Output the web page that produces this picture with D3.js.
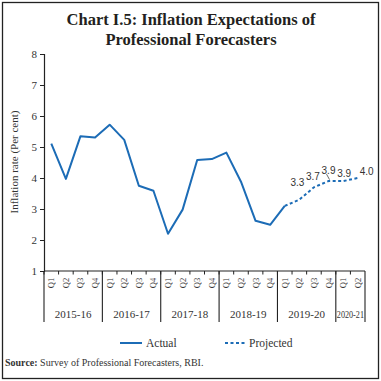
<!DOCTYPE html>
<html><head><meta charset="utf-8">
<script src="https://cdn.jsdelivr.net/npm/d3@7"></script>
<style>body{margin:0;background:#fff}svg{display:block}</style>
</head><body>
<svg id="c" width="381" height="381"></svg>
<script>
const years = ["2015-16","2016-17","2017-18","2018-19","2019-20","2020-21"];
const quarterNames = ["Q1","Q2","Q3","Q4"];
const quarterCount = [4,4,4,4,4,2];
const actual = [5.11,3.97,5.35,5.31,5.72,5.23,3.75,3.59,2.2,2.98,4.58,4.61,4.82,3.88,2.62,2.49,3.1];
const projected = [3.1,3.3,3.7,3.9,3.9,4.0];
const projectedLabels = ["","3.3","3.7","3.9","3.9","4.0"];
const yTicks = [1,2,3,4,5,6,7,8];

const keys = [];
years.forEach((y,i)=>{for(let q=0;q<quarterCount[i];q++) keys.push(y+"|"+quarterNames[q]);});

const svg = d3.select("#c");
const font = "'Liberation Serif', serif";
const blue = "#1c6cb6";
const L = 44, R = 365, T = 54, B = 271;

svg.append("rect").attr("x",2.5).attr("y",2.5).attr("width",376).attr("height",376)
  .attr("fill","none").attr("stroke","#222").attr("stroke-width",1.3);

const title = svg.append("text").attr("text-anchor","middle").attr("font-family",font)
  .attr("font-weight","bold").attr("font-size",16.5).attr("fill","#231f20");
title.append("tspan").attr("x",191).attr("y",25).text("Chart I.5: Inflation Expectations of");
title.append("tspan").attr("x",191).attr("y",45).text("Professional Forecasters");

const x = d3.scaleBand().domain(keys).range([L,R]);
const y = d3.scaleLinear().domain([1,8]).range([B,T]);

// y axis
const ya = svg.append("g").attr("transform",`translate(${L},0)`)
  .call(d3.axisLeft(y).tickValues(yTicks).tickSize(4).tickPadding(3).tickFormat(d3.format("d")));
ya.select(".domain").attr("stroke","#222").attr("stroke-width",1.2);
ya.selectAll(".tick line").attr("stroke","#222");
ya.selectAll("text").attr("font-family",font).attr("font-size",11).attr("fill","#333");

svg.append("text").attr("transform","translate(18,162) rotate(-90)").attr("text-anchor","middle")
  .attr("font-family",font).attr("font-size",11).attr("fill","#333").text("Inflation rate (Per cent)");

// x axis line
svg.append("line").attr("x1",L).attr("x2",R).attr("y1",B).attr("y2",B).attr("stroke","#222").attr("stroke-width",1.2);
// quarter ticks at band boundaries
svg.selectAll(".qt").data(keys).enter().append("line")
  .attr("x1",d=>x(d)).attr("x2",d=>x(d)).attr("y1",B).attr("y2",B+3.5).attr("stroke","#222");
// quarter labels
svg.selectAll(".ql").data(keys).enter().append("text")
  .attr("transform",d=>`translate(${x(d)+x.bandwidth()/2+3},283) rotate(-90)`)
  .attr("text-anchor","middle").attr("font-family",font).attr("font-size",8.5).attr("fill","#333")
  .text(d=>d.split("|")[1]);
// year separators & labels
let idx = 0;
const bounds = [];
years.forEach((yr,i)=>{ bounds.push([keys[idx], keys[idx+quarterCount[i]-1], yr]); idx += quarterCount[i]; });
const sepX = [L].concat(bounds.map(b=>x(b[1])+x.bandwidth()));
svg.selectAll(".ys").data(sepX).enter().append("line")
  .attr("x1",d=>d).attr("x2",d=>d).attr("y1",B).attr("y2",322).attr("stroke","#222").attr("stroke-width",1.1);
bounds.forEach((b,i)=>{
  const x0 = x(b[0]), x1 = x(b[1])+x.bandwidth();
  const t = svg.append("text").attr("x",(x0+x1)/2).attr("y",318).attr("text-anchor","middle")
    .attr("font-family",font).attr("font-size",11).attr("fill","#333").text(b[2]);
  if (i===years.length-1) t.attr("textLength",x1-x0-2).attr("lengthAdjust","spacingAndGlyphs");
});

// lines
const line = d3.line().x(d=>x(d[0])+x.bandwidth()/2).y(d=>y(d[1]));
const actData = actual.map((v,i)=>[keys[i],v]);
const projData = projected.map((v,i)=>[keys[actual.length-1+i],v]);
svg.append("path").datum(actData).attr("d",line).attr("fill","none").attr("stroke",blue)
  .attr("stroke-width",2).attr("stroke-linejoin","round");
svg.append("path").datum(projData).attr("d",line).attr("fill","none").attr("stroke",blue)
  .attr("stroke-width",2).attr("stroke-dasharray","3,2.5");

// projected labels
const lblOff = [[0,0],[-2,-14],[-1,-7],[0,-7],[1,-4],[9,-3]];
projData.forEach((d,i)=>{
  if(!projectedLabels[i]) return;
  svg.append("text").attr("x",x(d[0])+x.bandwidth()/2+lblOff[i][0]).attr("y",y(d[1])+lblOff[i][1])
    .attr("text-anchor","middle").attr("font-family","'Liberation Sans', sans-serif").attr("font-size",10).attr("fill","#333")
    .text(projectedLabels[i]);
});
// leader for first 3.9
{
  const d = projData[3], cx = x(d[0])+x.bandwidth()/2, cy = y(d[1]);
  svg.append("line").attr("x1",cx-2).attr("y1",cy-7).attr("x2",cx+1).attr("y2",cy-1.5).attr("stroke","#444").attr("stroke-width",0.8);
}

// legend
svg.append("line").attr("x1",120).attr("x2",142).attr("y1",343).attr("y2",343).attr("stroke",blue).attr("stroke-width",2);
svg.append("text").attr("x",146).attr("y",347).attr("font-family",font).attr("font-size",11.5).attr("fill","#333").text("Actual");
svg.append("line").attr("x1",225).attr("x2",246).attr("y1",343).attr("y2",343).attr("stroke",blue).attr("stroke-width",2).attr("stroke-dasharray","3,2.5");
svg.append("text").attr("x",249).attr("y",347).attr("font-family",font).attr("font-size",11.5).attr("fill","#333").text("Projected");

// source
const src = svg.append("text").attr("x",5).attr("y",366).attr("font-family",font).attr("font-size",10).attr("fill","#333");
src.append("tspan").attr("font-weight","bold").text("Source:");
src.append("tspan").text(" Survey of Professional Forecasters, RBI.");
</script>
</body></html>
